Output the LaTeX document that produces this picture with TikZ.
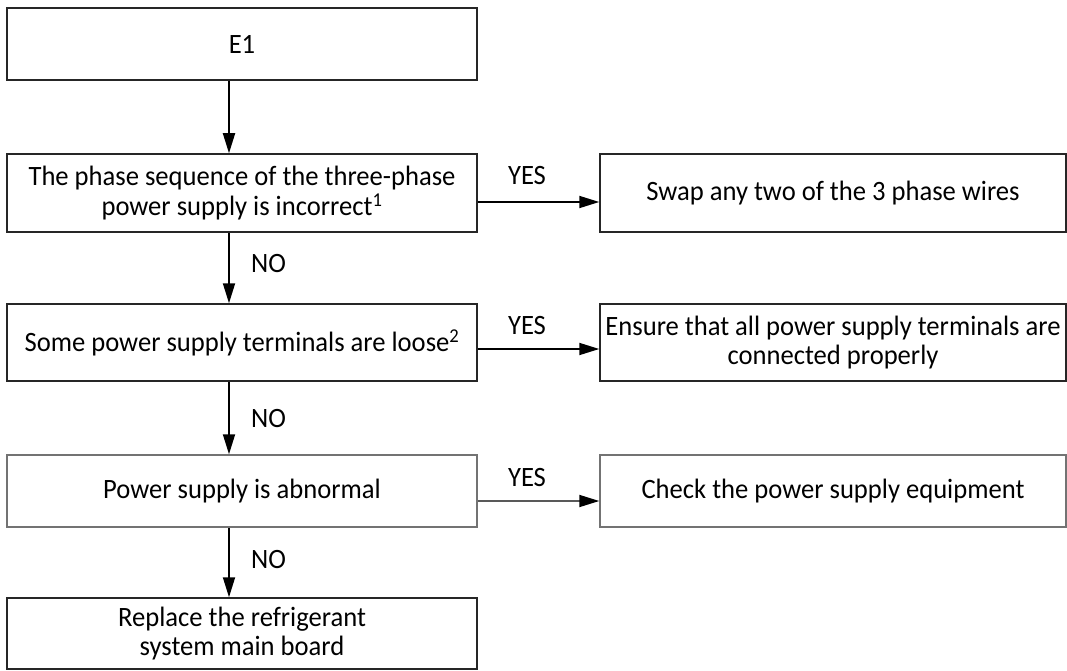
\documentclass[tikz,border=0pt]{standalone}
\usepackage{fontspec}
\setmainfont{Carlito}[FakeStretch=0.95]
\usetikzlibrary{arrows.meta}
\begin{document}
\begin{tikzpicture}[x=1pt,y=-1pt,
  box/.style={draw=black!85, line width=1.5pt, inner sep=0pt, align=center,
    minimum width=470pt, font=\fontsize{28}{29.5}\selectfont},
  rbox/.style={box, minimum width=466pt},
  arr/.style={line width=1.8pt, -{Triangle[length=20pt,width=12pt,color=black]}},
  lbl/.style={font=\fontsize{28}{30}\selectfont, inner sep=0pt}]
\useasboundingbox (0,0) rectangle (1067,671);
\node[box, minimum height=72pt] (e1) at (242,44) {E1};
\node[box, minimum height=78pt] (b2) at (242,193) {The phase sequence of the three-phase\\power supply is incorrect\textsuperscript{1}};
\node[box, minimum height=77pt] (b3) at (242,342.5) {Some power supply terminals are loose\textsuperscript{2}};
\node[box, draw=black!55, minimum height=72pt] (b4) at (242,491) {Power supply is abnormal};
\node[box, minimum height=71pt] (b5) at (242,633.5) {Replace the refrigerant\\system main board};
\node[rbox, minimum height=78pt] (s2) at (833,193) {Swap any two of the 3 phase wires};
\node[rbox, minimum height=77pt] (s3) at (833,342.5) {Ensure that all power supply terminals are\\connected properly};
\node[rbox, draw=black!55, minimum height=72pt] (s4) at (833,491) {Check the power supply equipment};
\coordinate (ax) at (229,0);
\coordinate (r2) at (0,202);
\coordinate (r3) at (0,349);
\coordinate (r4) at (0,501);
\draw[arr] (e1.south -| ax) -- (b2.north -| ax);
\draw[arr] (b2.south -| ax) -- (b3.north -| ax);
\draw[arr] (b3.south -| ax) -- (b4.north -| ax);
\draw[arr] (b4.south -| ax) -- (b5.north -| ax);
\draw[arr] (b2.east |- r2) -- (s2.west |- r2);
\draw[arr] (b3.east |- r3) -- (s3.west |- r3);
\draw[arr, draw=black!65] (b4.east |- r4) -- (s4.west |- r4);
\node[lbl] (y2) at (527,176) {YES};
\node[lbl] (y3) at (527,326) {YES};
\node[lbl] (y4) at (527,478) {YES};
\node[lbl, anchor=west] (n2) at (251,264) {NO};
\node[lbl, anchor=west] (n3) at (251,419) {NO};
\node[lbl, anchor=west] (n4) at (251,560) {NO};
\end{tikzpicture}
\end{document}
